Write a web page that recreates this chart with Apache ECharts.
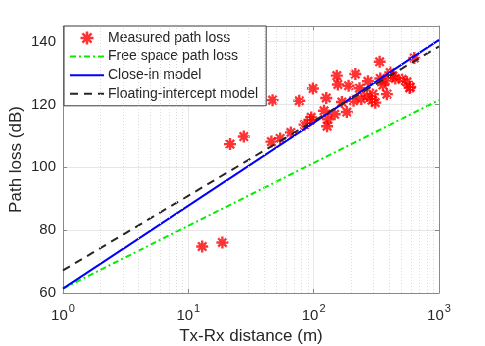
<!DOCTYPE html>
<html>
<head>
<meta charset="utf-8">
<script src="https://cdn.jsdelivr.net/npm/echarts@6/dist/echarts.min.js"></script>
<style>
  html, body { margin: 0; padding: 0; background: #fff; }
  #chart { width: 485px; height: 346px; }
</style>
</head>
<body>
<div id="chart"></div>
<script>
// measured points: distance (m) and path loss (dB)
var measDist = [12.9, 18.7, 21.5, 27.7, 47, 46, 54, 65.8, 76.7, 84.6, 93.8, 95.6, 98.6,
  121, 126, 128, 130, 147, 153, 156, 168, 184, 190, 208, 215, 232, 240, 266, 271,
  292, 297, 310, 336, 340, 357, 373, 384, 408, 429, 448, 507, 555, 583, 590, 635];
var measLoss = [74.8, 76.1, 107.4, 109.8, 121.4, 108.2, 109.2, 111.1, 121.2, 113.6, 115.0, 115.9, 125.1,
  118.0, 122.1, 113.1, 115.3, 116.9, 129.2, 126.4, 120.8, 117.6, 126.0, 121.2, 129.7, 125.2, 121.8, 122.7, 127.4,
  121.4, 123.3, 120.6, 133.6, 128.3, 126.2, 127.6, 123.3, 130.2, 129.1, 128.3, 128.0, 127.2, 125.3, 125.6, 134.8];

// model lines evaluated at the ends of the distance range
var lineDist = [1, 1000];
var fsplLoss = [61.4, 121.4];
var closeInLoss = [61.4, 140.6];
var floatLoss = [67.2, 138.5];

var xTicks = [1, 10, 100, 1000];
var yTicks = [60, 80, 100, 120, 140];
var minorX = [2, 3, 4, 5, 6, 7, 8, 9, 20, 30, 40, 50, 60, 70, 80, 90, 200, 300, 400, 500, 600, 700, 800, 900];

var names = ['Measured path loss', 'Free space path loss', 'Close-in model', 'Floating-intercept model'];

var FONT = 'Liberation Sans';
var TXT = '#262626';
var BOX = '#8a8a8a';
// asterisk marker, like matlab's '*'
var star = 'path://M0 8L20 8L20 12L0 12Z M8 0L12 0L12 20L8 20Z ' +
  'M4.4 1.6L18.4 15.6L15.6 18.4L1.6 4.4Z M18.4 4.4L4.4 18.4L1.6 15.6L15.6 1.6Z';

function pairs(xs, ys) {
  return xs.map(function (x, i) { return [x, ys[i]]; });
}

var chart = echarts.init(document.getElementById('chart'));

var xBase = {
  type: 'log', logBase: 10, min: 1, max: 1000,
  axisLine: { show: true, lineStyle: { color: BOX, width: 1 } },
  axisTick: { show: true, inside: true, length: 4, lineStyle: { color: BOX } },
  splitLine: { show: false }
};
var yBase = {
  type: 'value', min: 60, max: 145, interval: 20,
  axisLine: { show: true, lineStyle: { color: BOX, width: 1 } },
  axisTick: { show: true, inside: true, length: 4, lineStyle: { color: BOX } },
  splitLine: { show: false }
};

chart.setOption({
  animation: false,
  grid: { left: 63, right: 46, top: 26, bottom: 53, outerBoundsMode: 'none' },
  xAxis: [
    Object.assign({}, xBase, {
      position: 'bottom',
      name: 'Tx-Rx distance (m)',
      nameLocation: 'middle',
      nameGap: 35,
      nameMoveOverlap: false,
      nameTextStyle: { fontFamily: FONT, fontSize: 17, color: TXT },
      splitLine: { show: true, lineStyle: { color: '#e6e6e6', width: 1 } },
      axisLabel: {
        margin: 10,
        fontFamily: FONT, fontSize: 15, color: TXT,
        formatter: function (v) {
          var e = Math.round(Math.log10(v));
          return '{b|10}{e|' + e + '}';
        },
        rich: {
          b: { fontFamily: FONT, fontSize: 15, color: TXT, verticalAlign: 'bottom', lineHeight: 20 },
          e: { fontFamily: FONT, fontSize: 11, color: TXT, verticalAlign: 'top', lineHeight: 20, padding: [0, 0, 0, 1] }
        }
      }
    }),
    Object.assign({}, xBase, { position: 'top', axisLabel: { show: false } })
  ],
  yAxis: [
    Object.assign({}, yBase, {
      position: 'left',
      name: 'Path loss (dB)',
      nameLocation: 'middle',
      nameGap: 38,
      nameMoveOverlap: false,
      nameTextStyle: { fontFamily: FONT, fontSize: 17, color: TXT },
      splitLine: { show: true, lineStyle: { color: '#e6e6e6', width: 1 } },
      axisLabel: {
        margin: 7, fontFamily: FONT, fontSize: 15, color: TXT,
        formatter: function (v) { return yTicks.indexOf(v) >= 0 ? String(v) : ''; }
      }
    }),
    Object.assign({}, yBase, { position: 'right', axisLabel: { show: false } })
  ],
  legend: {
    orient: 'vertical',
    left: 64, top: 26,
    padding: [5, 8, 5, 5],
    itemGap: 4.6,
    itemWidth: 34, itemHeight: 13,
    backgroundColor: '#fff',
    borderColor: '#3a3a3a', borderWidth: 1, borderRadius: 0,
    textStyle: { fontFamily: FONT, fontSize: 14, color: TXT, padding: [0, 0, 0, -1] },
    data: [
      { name: names[0] },
      { name: names[1], itemStyle: { opacity: 0 } },
      { name: names[2], itemStyle: { opacity: 0 } },
      { name: names[3], itemStyle: { opacity: 0 } }
    ]
  },
  series: [
    {
      name: 'minor',
      type: 'line',
      data: [],
      silent: true,
      markLine: {
        silent: true, symbol: 'none', label: { show: false },
        lineStyle: { color: '#dcdcdc', type: [1, 2], width: 1 },
        data: minorX.map(function (v) { return { xAxis: v }; })
      },
      z: 0
    },
    {
      name: names[0],
      type: 'scatter',
      data: pairs(measDist, measLoss),
      symbol: star,
      symbolSize: 12,
      itemStyle: { color: '#ff0000' },
      z: 3
    },
    {
      name: names[1],
      type: 'line',
      data: pairs(lineDist, fsplLoss),
      showSymbol: false, symbol: 'none',
      lineStyle: { color: '#00f000', width: 2, type: [6, 3, 2, 3] },
      itemStyle: { color: '#00f000' },
      z: 4
    },
    {
      name: names[2],
      type: 'line',
      data: pairs(lineDist, closeInLoss),
      showSymbol: false, symbol: 'none',
      lineStyle: { color: '#0000ff', width: 2, type: 'solid' },
      itemStyle: { color: '#0000ff' },
      z: 4
    },
    {
      name: names[3],
      type: 'line',
      data: pairs(lineDist, floatLoss),
      showSymbol: false, symbol: 'none',
      lineStyle: { color: '#262626', width: 2, type: [8, 6] },
      itemStyle: { color: '#262626' },
      z: 4
    }
  ]
});
</script>
</body>
</html>
